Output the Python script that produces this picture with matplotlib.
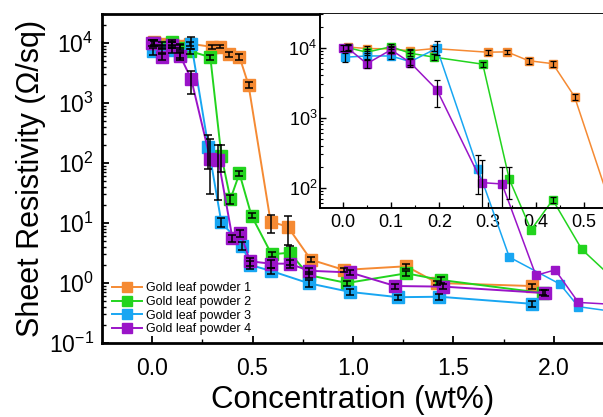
import numpy as np
import matplotlib
matplotlib.use("Agg")
import matplotlib.pyplot as plt
from matplotlib.ticker import LogLocator, MultipleLocator, FormatStrFormatter, NullFormatter

plt.rcParams['font.family'] = ['Liberation Sans', 'DejaVu Sans']
plt.rcParams['mathtext.fontset'] = 'custom'
plt.rcParams['mathtext.rm'] = 'Liberation Sans'
plt.rcParams['mathtext.it'] = 'Liberation Sans:italic'
plt.rcParams['mathtext.bf'] = 'Liberation Sans:bold'

# ---------------- data ----------------
labels = ["Gold leaf powder 1", "Gold leaf powder 2", "Gold leaf powder 3", "Gold leaf powder 4"]
colors = ["#F58A33", "#22D41E", "#18A6F2", "#9A14C8"]

x1 = [0.01, 0.05, 0.10, 0.14, 0.19, 0.30, 0.34, 0.385, 0.435, 0.48, 0.59, 0.675, 0.79, 0.955, 1.265, 1.42, 1.89]
y1 = [10200, 9700, 9600, 9000, 9700, 8600, 8700, 6500, 5900, 2000, 10.5, 8.7, 2.45, 1.65, 1.9, 1.0, 0.89]
lo1 = [9200, 8900, 8800, 8300, 9000, 7900, 8100, 5900, 5300, 1800, 6.8, 4.3, 2.2, 1.5, 1.7, 0.92, 0.8]
hi1 = [11200, 10500, 10400, 9700, 10400, 9300, 9300, 7100, 6500, 2200, 13.7, 13.1, 2.7, 1.8, 2.1, 1.08, 0.98]

x2 = [0.01, 0.05, 0.10, 0.14, 0.19, 0.29, 0.345, 0.39, 0.435, 0.495, 0.595, 0.685, 0.78, 0.97, 1.265, 1.44, 1.945]
y2 = [10000, 8600, 10300, 8300, 7300, 5800, 132, 25, 67, 13.2, 3.0, 3.2, 1.35, 1.0, 1.45, 1.12, 0.68]
lo2 = [9000, 7800, 9400, 7500, 6600, 5300, 70, 21, 60, 12, 2.7, 2.0, 1.2, 0.9, 1.3, 1.0, 0.62]
hi2 = [11000, 9400, 11200, 9100, 8000, 6300, 200, 29, 74, 14.4, 3.3, 4.2, 1.5, 1.1, 1.6, 1.24, 0.75]

x3 = [0.005, 0.05, 0.10, 0.14, 0.195, 0.28, 0.345, 0.45, 0.488, 0.59, 0.78, 0.985, 1.225, 1.43, 1.89]
y3 = [7300, 7600, 7600, 6300, 9800, 187, 10.2, 4.2, 2.0, 1.6, 0.99, 0.71, 0.58, 0.59, 0.45]
lo3 = [6300, 6800, 6800, 5600, 7900, 80, 8.5, 3.6, 1.7, 1.4, 0.85, 0.64, 0.52, 0.53, 0.40]
hi3 = [8300, 8400, 8400, 7000, 12600, 293, 12.0, 4.8, 2.3, 1.8, 1.13, 0.78, 0.64, 0.65, 0.50]

x4 = [0.0, 0.01, 0.05, 0.10, 0.14, 0.195, 0.289, 0.33, 0.40, 0.44, 0.488, 0.59, 0.685, 0.78, 0.985, 1.21, 1.45, 1.955]
y4 = [10000, 9900, 5900, 9300, 6100, 2500, 118, 113, 5.6, 6.7, 2.3, 2.1, 2.1, 1.6, 1.5, 0.89, 0.87, 0.68]
lo4 = [9000, 8900, 5200, 8300, 5300, 1430, 30, 24, 4.8, 5.9, 1.95, 1.8, 1.8, 1.4, 1.35, 0.8, 0.78, 0.6]
hi4 = [11000, 10900, 6600, 10300, 6900, 3460, 250, 200, 6.4, 7.5, 2.65, 2.4, 2.4, 1.8, 1.65, 0.98, 0.96, 0.76]

series = [(x1, y1, lo1, hi1), (x2, y2, lo2, hi2), (x3, y3, lo3, hi3), (x4, y4, lo4, hi4)]

main_xticks = [0.0, 0.5, 1.0, 1.5, 2.0]
inset_xticks = [0.0, 0.1, 0.2, 0.3, 0.4, 0.5]

# ---------------- figure ----------------
W, H = 603, 417
fig = plt.figure(figsize=(W / 100, H / 100), dpi=100)

ax = fig.add_axes([102 / W, (H - 343) / H, 1 - 102 / W, (343 - 14) / H])
ax.set_yscale('log')
ax.set_xlim(-0.249, 2.244)
ax.set_ylim(10 ** -1, 10 ** 4.483)

for (x, y, lo, hi), c, lab in zip(series, colors, labels):
    x = np.array(x); y = np.array(y)
    yerr = np.vstack([y - np.array(lo), np.array(hi) - y])
    ax.plot(x, y, '-', color=c, lw=1.4, marker='s', ms=8.5, mec=c, mfc=c, label=lab, zorder=2)
    ax.errorbar(x, y, yerr=yerr, fmt='none', ecolor='black', elinewidth=1.1,
                capsize=3, capthick=1.1, zorder=3)

ax.xaxis.set_major_locator(MultipleLocator(0.5))
ax.xaxis.set_minor_locator(MultipleLocator(0.25))
ax.xaxis.set_major_formatter(FormatStrFormatter('%.1f'))
ax.set_xticks(main_xticks)
ax.yaxis.set_major_locator(LogLocator(base=10, numticks=20))
ax.yaxis.set_minor_locator(LogLocator(base=10, subs=np.arange(2, 10), numticks=20))
ax.yaxis.set_minor_formatter(NullFormatter())
ax.tick_params(axis='both', which='both', direction='in', top=False, right=False)
ax.tick_params(axis='both', which='major', length=5, width=1.3, labelsize=16.5)
ax.tick_params(axis='both', which='minor', length=3, width=1.0)
ax.tick_params(axis='x', which='major', pad=10)
ax.tick_params(axis='y', which='major', pad=6)
for s in ['left', 'bottom', 'top']:
    ax.spines[s].set_linewidth(2.0)
ax.spines['right'].set_visible(False)

ax.set_xlabel('Concentration (wt%)', fontsize=22.5, labelpad=4)
ax.set_ylabel('Sheet Resistivity (\u03a9/sq)', fontsize=22, labelpad=2)

leg = ax.legend(loc='lower left', bbox_to_anchor=(112 / W, (H - 335) / H),
                bbox_transform=fig.transFigure, frameon=False, fontsize=9,
                handlelength=2.4, handletextpad=0.3, labelspacing=0.12,
                borderpad=0, borderaxespad=0, markerscale=0.85)

# ---------------- inset ----------------
axi = fig.add_axes([320 / W, (H - 208) / H, 1 - 320 / W, (208 - 14) / H])
axi.set_yscale('log')
axi.set_xlim(-0.047, 0.539)
axi.set_ylim(10 ** 1.71, 10 ** 4.48)
for (x, y, lo, hi), c in zip(series, colors):
    x = np.array(x); y = np.array(y)
    yerr = np.vstack([y - np.array(lo), np.array(hi) - y])
    axi.plot(x, y, '-', color=c, lw=1.1, marker='s', ms=5.5, mec=c, mfc=c,
             clip_on=False, zorder=2)
    axi.errorbar(x, y, yerr=yerr, fmt='none', ecolor='black', elinewidth=0.9,
                 capsize=2.2, capthick=0.9, zorder=3)
axi.set_xticks(inset_xticks)
axi.xaxis.set_minor_locator(MultipleLocator(0.05))
axi.xaxis.set_major_formatter(FormatStrFormatter('%.1f'))
axi.yaxis.set_major_locator(LogLocator(base=10, numticks=20))
axi.yaxis.set_minor_locator(LogLocator(base=10, subs=np.arange(2, 10), numticks=20))
axi.yaxis.set_minor_formatter(NullFormatter())
axi.tick_params(axis='both', which='both', direction='in', top=False, right=False)
axi.tick_params(axis='both', which='major', length=4, width=1.0, labelsize=13)
axi.tick_params(axis='both', which='minor', length=2.5, width=0.8)
axi.tick_params(axis='x', which='major', pad=4)
axi.tick_params(axis='y', which='major', pad=2)
axi.spines['right'].set_visible(False)
axi.spines['top'].set_visible(False)
for s in ['left', 'bottom']:
    axi.spines[s].set_linewidth(1.4)

fig.savefig('out.png', dpi=100)
